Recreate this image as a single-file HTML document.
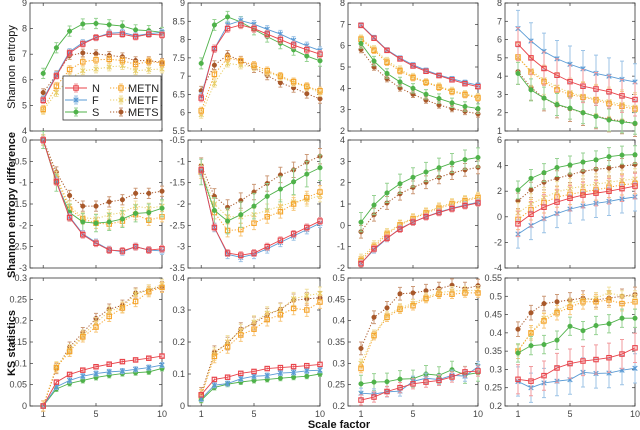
<!DOCTYPE html>
<html><head><meta charset="utf-8">
<style>
html,body{margin:0;padding:0;background:#fff;}
svg{display:block;font-family:"Liberation Sans",Arial,sans-serif;}
</style></head>
<body>
<svg id="chart" width="640" height="430" viewBox="0 0 640 430" xmlns="http://www.w3.org/2000/svg"></svg>
<script>
const xCategories=[1,2,3,4,5,6,7,8,9,10];
const seriesNames=["N","F","S","METN","METF","METS"];
// panel data (row-major)
const p1N=[5.2,6.15,7.05,7.4,7.65,7.78,7.78,7.68,7.78,7.75];
const p1F=[5.25,6.2,7.1,7.45,7.65,7.82,7.85,7.72,7.8,7.85];
const p1S=[6.25,7.25,7.9,8.18,8.2,8.15,8.1,7.95,7.92,7.85];
const p1MN=[4.85,5.75,6.4,6.7,6.78,6.8,6.75,6.6,6.72,6.65];
const p1MF=[4.8,5.5,6.05,6.35,6.42,6.5,6.55,6.35,6.4,6.42];
const p1MS=[5.5,6.2,6.95,7.05,7.02,6.95,6.9,6.75,6.75,6.68];
const p2N=[6.4,7.75,8.3,8.4,8.3,8.15,8.0,7.85,7.72,7.6];
const p2F=[6.45,7.75,8.4,8.52,8.42,8.28,8.15,7.98,7.83,7.7];
const p2S=[7.35,8.4,8.62,8.48,8.28,8.08,7.9,7.72,7.55,7.42];
const p2MN=[6.05,7.05,7.5,7.42,7.3,7.15,7.0,6.85,6.72,6.6];
const p2MF=[5.95,6.8,7.35,7.3,7.25,7.1,6.98,6.82,6.7,6.55];
const p2MS=[6.6,7.3,7.58,7.42,7.22,7.02,6.82,6.68,6.52,6.38];
const p3N=[6.95,6.35,5.78,5.38,5.05,4.8,4.6,4.4,4.22,4.08];
const p3F=[6.97,6.38,5.8,5.42,5.1,4.85,4.62,4.45,4.28,4.15];
const p3S=[6.1,5.28,4.7,4.3,4.0,3.72,3.52,3.32,3.15,3.05];
const p3MN=[6.3,5.78,5.22,4.82,4.5,4.28,4.05,3.85,3.7,3.55];
const p3MF=[6.35,5.85,5.3,4.9,4.55,4.3,4.1,3.9,3.75,3.6];
const p3MS=[5.82,5.0,4.45,4.02,3.72,3.45,3.22,3.05,2.92,2.8];
const p4N=[5.75,5.0,4.42,4.05,3.7,3.45,3.3,3.15,2.92,2.72];
const p4F=[6.6,5.92,5.35,4.95,4.65,4.4,4.15,4.0,3.82,3.68];
const p4S=[4.15,3.25,2.8,2.45,2.25,2.0,1.8,1.6,1.5,1.42];
const p4MN=[5.05,4.22,3.7,3.25,3.0,2.85,2.7,2.5,2.35,2.2];
const p4MF=[5.0,4.3,3.8,3.4,3.1,2.9,2.75,2.6,2.45,2.3];
const p4MS=[4.25,3.38,2.8,2.42,2.22,2.0,1.82,1.65,1.55,1.4];
const p5N=[0,-0.98,-1.82,-2.22,-2.42,-2.58,-2.6,-2.5,-2.58,-2.55];
const p5F=[0,-0.95,-1.8,-2.2,-2.4,-2.57,-2.62,-2.5,-2.58,-2.6];
const p5S=[0,-1.0,-1.7,-1.92,-1.95,-1.92,-1.85,-1.72,-1.7,-1.6];
const p5MN=[0,-0.9,-1.62,-1.85,-1.95,-1.97,-1.9,-1.75,-1.88,-1.8];
const p5MF=[0,-0.85,-1.55,-1.82,-1.85,-1.75,-1.7,-1.55,-1.6,-1.55];
const p5MS=[0,-0.75,-1.3,-1.55,-1.55,-1.45,-1.4,-1.25,-1.25,-1.2];
const p6N=[-1.2,-2.55,-3.15,-3.2,-3.15,-3.0,-2.85,-2.7,-2.55,-2.4];
const p6F=[-1.22,-2.55,-3.18,-3.25,-3.18,-3.05,-2.9,-2.75,-2.6,-2.45];
const p6S=[-1.25,-2.15,-2.4,-2.25,-2.05,-1.82,-1.65,-1.48,-1.3,-1.15];
const p6MN=[-1.25,-2.2,-2.62,-2.6,-2.45,-2.3,-2.18,-2.0,-1.85,-1.72];
const p6MF=[-1.2,-2.0,-2.3,-2.3,-2.25,-2.15,-2.05,-1.95,-1.9,-1.8];
const p6MS=[-1.1,-1.82,-2.08,-1.92,-1.72,-1.52,-1.32,-1.2,-1.02,-0.88];
const p7N=[-1.8,-1.1,-0.6,-0.18,0.15,0.4,0.6,0.78,0.92,1.05];
const p7F=[-1.78,-1.15,-0.62,-0.15,0.15,0.4,0.62,0.8,0.95,1.08];
const p7S=[0.15,0.95,1.52,1.95,2.25,2.5,2.7,2.92,3.08,3.18];
const p7MN=[-1.65,-1.02,-0.42,0.02,0.3,0.58,0.8,1.0,1.15,1.3];
const p7MF=[-1.55,-0.92,-0.35,0.05,0.35,0.62,0.85,1.05,1.2,1.35];
const p7MS=[-0.3,0.5,1.05,1.48,1.78,2.02,2.25,2.45,2.6,2.72];
const p8N=[-0.55,0.2,0.75,1.15,1.45,1.7,1.85,2.0,2.2,2.4];
const p8F=[-1.35,-0.68,-0.15,0.25,0.6,0.85,1.05,1.2,1.4,1.55];
const p8S=[2.1,3.0,3.45,3.85,4.05,4.28,4.45,4.7,4.82,4.85];
const p8MN=[-0.2,0.55,1.1,1.55,1.75,1.95,2.1,2.3,2.5,2.6];
const p8MF=[0.3,1.0,1.5,1.95,2.2,2.4,2.55,2.7,2.85,2.95];
const p8MS=[1.25,2.1,2.7,3.0,3.28,3.55,3.72,3.8,3.95,4.1];
const p9N=[0,0.056,0.074,0.084,0.092,0.098,0.104,0.108,0.112,0.117];
const p9F=[0,0.045,0.06,0.07,0.076,0.08,0.082,0.086,0.09,0.096];
const p9S=[0,0.04,0.053,0.06,0.067,0.072,0.076,0.078,0.08,0.088];
const p9MN=[0,0.09,0.128,0.162,0.185,0.21,0.23,0.245,0.268,0.278];
const p9MF=[0,0.092,0.132,0.166,0.195,0.222,0.232,0.262,0.272,0.285];
const p9MS=[0,0.088,0.138,0.172,0.205,0.227,0.236,0.265,0.272,0.28];
const p10N=[0.035,0.083,0.09,0.102,0.108,0.117,0.12,0.123,0.126,0.13];
const p10F=[0.022,0.065,0.07,0.085,0.093,0.095,0.103,0.105,0.11,0.112];
const p10S=[0.018,0.058,0.068,0.075,0.08,0.083,0.087,0.09,0.093,0.1];
const p10MN=[0.032,0.155,0.185,0.222,0.24,0.27,0.285,0.305,0.3,0.325];
const p10MF=[0.03,0.162,0.2,0.235,0.262,0.29,0.3,0.335,0.345,0.352];
const p10MS=[0.038,0.168,0.195,0.24,0.258,0.285,0.302,0.33,0.335,0.338];
const p11N=[0.214,0.221,0.234,0.243,0.252,0.256,0.26,0.268,0.28,0.282];
const p11F=[0.23,0.228,0.233,0.235,0.258,0.265,0.262,0.272,0.27,0.292];
const p11S=[0.252,0.256,0.257,0.263,0.264,0.275,0.272,0.285,0.273,0.278];
const p11MN=[0.288,0.365,0.408,0.427,0.435,0.452,0.462,0.462,0.465,0.465];
const p11MF=[0.3,0.368,0.412,0.43,0.44,0.455,0.465,0.47,0.47,0.472];
const p11MS=[0.335,0.408,0.43,0.463,0.465,0.47,0.475,0.483,0.475,0.482];
const p12N=[0.273,0.268,0.283,0.304,0.316,0.323,0.327,0.332,0.342,0.359];
const p12F=[0.267,0.25,0.263,0.268,0.272,0.292,0.289,0.29,0.298,0.303];
const p12S=[0.345,0.365,0.368,0.38,0.418,0.406,0.42,0.425,0.44,0.44];
const p12MN=[0.35,0.4,0.433,0.455,0.47,0.485,0.485,0.49,0.48,0.485];
const p12MF=[0.352,0.4,0.44,0.46,0.48,0.49,0.495,0.51,0.5,0.5];
const p12MS=[0.41,0.455,0.48,0.485,0.49,0.495,0.49,0.495,0.5,0.505];
// error half-widths per series (N,F,S,METN,METF,METS)
const err1=[0.12,0.12,0.2,0.15,0.15,0.15];
const err2=[0.1,0.1,0.15,0.1,0.1,0.12];
const err3=[0.1,0.1,0.22,0.15,0.15,0.15];
const err4=[0.9,1.0,0.6,0.8,0.8,0.7];
const err5=[0.08,0.08,0.2,0.12,0.12,0.12];
const err6=[0.08,0.1,0.3,0.15,0.15,0.18];
const err7=[0.15,0.15,0.45,0.2,0.2,0.3];
const err8=[1.0,1.1,0.7,0.8,0.8,0.6];
const err9=[0.004,0.006,0.006,0.012,0.012,0.012];
const err10=[0.006,0.008,0.008,0.02,0.02,0.02];
const err11=[0.012,0.012,0.02,0.01,0.01,0.015];
const err12=[0.04,0.04,0.025,0.02,0.015,0.02];
// y ticks per panel
const yTicks1=[4,5,6,7,8,9];
const yTicks2=[5.5,6,6.5,7,7.5,8,8.5,9];
const yTicks3=[2,3,4,5,6,7,8];
const yTicks4=[1,2,3,4,5,6,7,8];
const yTicks5=[-3,-2.5,-2,-1.5,-1,-0.5,0];
const yTicks6=[-3.5,-3,-2.5,-2,-1.5,-1,-0.5];
const yTicks7=[-2,-1,0,1,2,3,4];
const yTicks8=[-4,-2,0,2,4,6];
const yTicks9=[0,0.05,0.1,0.15,0.2,0.25,0.3];
const yTicks10=[0,0.1,0.2,0.3,0.4];
const yTicks11=[0.2,0.25,0.3,0.35,0.4,0.45,0.5];
const yTicks12=[0.2,0.25,0.3,0.35,0.4,0.45,0.5,0.55];
const xTickLabels=["1","5","10"];

const svg=document.getElementById('chart');
const NS="http://www.w3.org/2000/svg";
function mk(tag,attrs,parent){const e=document.createElementNS(NS,tag);for(const k in attrs)e.setAttribute(k,attrs[k]);(parent||svg).appendChild(e);return e;}
const colors=["#e8434a","#5a9bd5","#4fb24a","#f5a32a","#e8cf6a","#a8582a"];
const lightColors=["#f19a9d","#9cc3e6","#97d293","#f8c77c","#f1e0a0","#cc9a78"];
const dashed=[false,false,false,true,true,true];
const panels=[
 [p1N,p1F,p1S,p1MN,p1MF,p1MS,err1,yTicks1],
 [p2N,p2F,p2S,p2MN,p2MF,p2MS,err2,yTicks2],
 [p3N,p3F,p3S,p3MN,p3MF,p3MS,err3,yTicks3],
 [p4N,p4F,p4S,p4MN,p4MF,p4MS,err4,yTicks4],
 [p5N,p5F,p5S,p5MN,p5MF,p5MS,err5,yTicks5],
 [p6N,p6F,p6S,p6MN,p6MF,p6MS,err6,yTicks6],
 [p7N,p7F,p7S,p7MN,p7MF,p7MS,err7,yTicks7],
 [p8N,p8F,p8S,p8MN,p8MF,p8MS,err8,yTicks8],
 [p9N,p9F,p9S,p9MN,p9MF,p9MS,err9,yTicks9],
 [p10N,p10F,p10S,p10MN,p10MF,p10MS,err10,yTicks10],
 [p11N,p11F,p11S,p11MN,p11MF,p11MS,err11,yTicks11],
 [p12N,p12F,p12S,p12MN,p12MF,p12MS,err12,yTicks12]
];
const colLeft=[30,188,348,505], colW=[132,132,130,130];
const rowTop=[3,140,278], rowH=128;

function marker(g,k,x,y,c){
  let m;
  if(k===0||k===3){m=mk('rect',{x:x-2.2,y:y-2.2,width:4.4,height:4.4,fill:'none',stroke:c,'stroke-width':1.1},g);}
  else if(k===1||k===4){m=mk('path',{d:`M${x-2.3},${y-2.3}L${x+2.3},${y+2.3}M${x-2.3},${y+2.3}L${x+2.3},${y-2.3}M${x},${y-2.6}L${x},${y+2.6}`,stroke:c,'stroke-width':1.1,fill:'none'},g);}
  else {m=mk('circle',{cx:x,cy:y,r:2.3,fill:c,stroke:c,'stroke-width':0.5},g);}
  
  
}

panels.forEach((p,i)=>{
  const r=Math.floor(i/4), c=i%4;
  const L=colLeft[c], T=rowTop[r], W=colW[c], H=rowH;
  const ticks=p[7]; const ymin=ticks[0], ymax=ticks[ticks.length-1];
  const sx=v=>L+v/10*W;
  const sy=v=>T+H-(v-ymin)/(ymax-ymin)*H;
  const g=mk('g',{});
  
  
  const fr=mk('rect',{x:L,y:T,width:W,height:H,fill:'#fff',stroke:'#333','stroke-width':0.8},g);
  
  
  ticks.forEach(t=>{
    const y=sy(t);
    mk('line',{x1:L,x2:L+3,y1:y,y2:y,stroke:'#333','stroke-width':0.7},g);
    mk('line',{x1:L+W,x2:L+W-3,y1:y,y2:y,stroke:'#333','stroke-width':0.7},g);
    const tx=mk('text',{x:L-3,y:y+3,'text-anchor':'end','font-size':9,fill:'#444'},g);
    tx.textContent=String(t);
    
    
  });
  xTickLabels.forEach(lbl=>{
    const x=sx(+lbl);
    mk('line',{x1:x,x2:x,y1:T+H,y2:T+H-3,stroke:'#333','stroke-width':0.7},g);
    mk('line',{x1:x,x2:x,y1:T,y2:T+3,stroke:'#333','stroke-width':0.7},g);
    if(r===2){
      const tx=mk('text',{x:x,y:T+H+11,'text-anchor':'middle','font-size':9,fill:'#444'},g);
      tx.textContent=lbl;
      
      
    }
  });
  for(let k=5;k>=0;k--){
    const vals=p[k], e=p[6][k];
    const sg=mk('g',{},g);
    
    
    vals.forEach((v,j)=>{
      const x=sx(xCategories[j]);
      const y1=sy(v-e), y2=sy(v+e);
      const eb=mk('path',{d:`M${x},${y1}L${x},${y2}M${x-2},${y1}L${x+2},${y1}M${x-2},${y2}L${x+2},${y2}`,stroke:lightColors[k],'stroke-width':1,fill:'none'},sg);
      
      
    });
    const d=vals.map((v,j)=>(j?'L':'M')+sx(xCategories[j])+','+sy(v)).join('');
    const ln=mk('path',{d:d,stroke:colors[k],'stroke-width':dashed[k]?1:0.9,fill:'none','stroke-dasharray':dashed[k]?'1.2,1.8':'none'},sg);
    
    
    vals.forEach((v,j)=>marker(sg,k,sx(xCategories[j]),sy(v),colors[k]));
  }
});

// legend
const lg=mk('g',{});


mk('rect',{x:63,y:76,width:98,height:44,fill:'#fff',stroke:'#333','stroke-width':0.8},lg);
[[0,65,88],[1,65,100],[2,65,112],[3,110,88],[4,110,100],[5,110,112]].forEach(([k,x,y])=>{
  const eg=mk('g',{},lg);
  
  
  mk('path',{d:`M${x+11},${y-4}L${x+11},${y+4}M${x+9},${y-4}L${x+13},${y-4}M${x+9},${y+4}L${x+13},${y+4}`,stroke:lightColors[k],'stroke-width':1},eg);
  mk('line',{x1:x,x2:x+22,y1:y,y2:y,stroke:colors[k],'stroke-width':1,'stroke-dasharray':dashed[k]?'1.2,1.8':'none'},eg);
  marker(eg,k,x+11,y,colors[k]);
  const t=mk('text',{x:k<3?x+27:x+18,y:y+4,'font-size':11,fill:'#222'},eg);
  t.textContent=seriesNames[k];
});

function label(txt,x,y,rot,bold,name){
  const t=mk('text',{x:x,y:y,'text-anchor':'middle','font-size':11,fill:'#111','font-weight':bold?'bold':'normal',transform:rot?`rotate(-90 ${x} ${y})`:''});
  t.textContent=txt;
  
  
}
label('Shannon entropy',15,67,true,false,'y-axis-title-entropy');
label('Shannon entropy difference',15,205,true,true,'y-axis-title-entropy-difference');
label('KS statistics',15,343,true,true,'y-axis-title-ks');
label('Scale factor',339,428,false,true,'x-axis-title');
</script>
</body></html>
